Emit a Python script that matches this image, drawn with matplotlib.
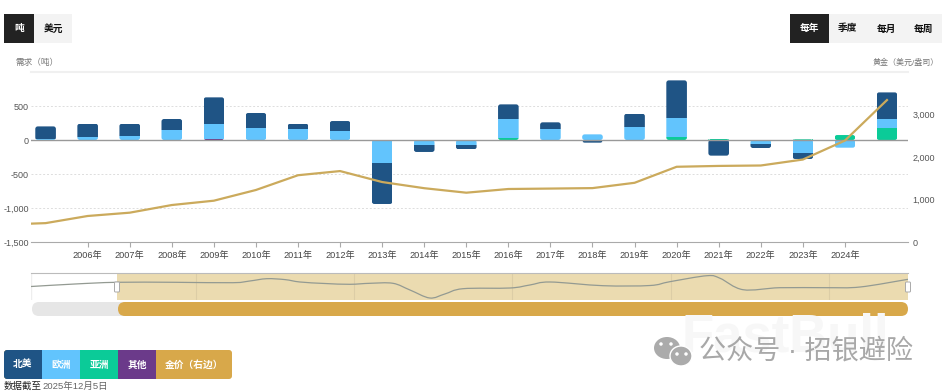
import matplotlib
matplotlib.use("Agg")
import matplotlib.pyplot as plt
from matplotlib.patches import Rectangle, FancyBboxPatch, Ellipse, PathPatch
from matplotlib.path import Path
from matplotlib.transforms import IdentityTransform

plt.rcParams['font.family'] = ['Liberation Sans', 'Noto Sans CJK SC', 'DejaVu Sans']

W, H = 942, 391

years = list(range(2005, 2026))
north_america = [185, 200, 180, 162, 392, 221, 83, 152, -608, -103, -67, 220, 98, -39, 201, 554, -230, -63, -88, 0, 396]
europe = [15, 40, 55, 147, 220, 176, 157, 127, -313, -53, -60, 270, 162, 83, 186, 279, 10, -45, -191, -113, 128]
asia = [0, 0, 0, 0, 0, 0, -20, 0, 0, 0, -10, 34, 0, 0, 0, 44, 10, -10, 10, 73, 176]
other = [0, 0, 5, 0, 15, 0, 0, 0, -20, -20, 0, 0, 0, 0, 0, 0, 0, 0, 0, 0, 0]

price_years = list(range(2004, 2026))
gold_price = [409, 444, 612, 690, 870, 972, 1224, 1571, 1669, 1411, 1266, 1160, 1247, 1257, 1268, 1393,
              1770, 1790, 1800, 1940, 2386, 3340]

nav_years = [2002.83, 2003.94, 2005, 2006.47, 2007.93, 2008.36, 2008.79, 2009.25, 2009.63, 2010.26, 2010.89,
             2011.4, 2011.98, 2012.41, 2012.91, 2013.29, 2013.75, 2014.94, 2015.44, 2015.95, 2017.29, 2018.48,
             2018.98, 2019.92, 2020.25, 2020.83, 2021.76, 2022.95, 2023.79, 2025]
nav_values = [13.5, 16, 17.7, 17.7, 17.3, 19, 21.3, 20.4, 18, 16.5, 15.7, 16.7, 16.7, 10, 2, 6, 11.3, 12, 15, 18,
              14.3, 14.5, 18.3, 24.3, 21.7, 10.3, 12.3, 12.3, 13, 20.7]
nav_grid = [2007, 2011, 2015, 2019, 2023]

series_names = ['北美', '欧洲', '亚洲', '其他', '金价（右边）']
unit_buttons = ['吨', '美元']
period_buttons = ['每年', '季度', '每月', '每周']

NA_C, EU_C, AS_C, OT_C = '#1F5485', '#62C4FD', '#0BCB98', '#6B3A8A'
GOLD = '#D8A84A'
LINE_C = '#CBAA5C'
TXT = '#555555'


def px_axes(fig, x0, y0, x1, y1):
    return fig.add_axes([x0 / W, 1 - y1 / H, (x1 - x0) / W, (y1 - y0) / H])


def smooth_path(xs, ys):
    # the navigator is a spline in the original, so bend the line through the read points
    verts = [(xs[0], ys[0])]
    codes = [Path.MOVETO]
    n = len(xs)
    for i in range(n - 1):
        a, b = max(i - 1, 0), min(i + 2, n - 1)
        verts.append((xs[i] + (xs[i + 1] - xs[a]) / 6, ys[i] + (ys[i + 1] - ys[a]) / 6))
        verts.append((xs[i + 1] - (xs[b] - xs[i]) / 6, ys[i + 1] - (ys[b] - ys[i]) / 6))
        verts.append((xs[i + 1], ys[i + 1]))
        codes += [Path.CURVE4] * 3
    return Path(verts, codes)


fig = plt.figure(figsize=(W / 100, H / 100), dpi=100)

# main chart
ax = px_axes(fig, 31, 72, 908, 242)
ax.set_xlim(-0.347, 20.5)
ax.set_ylim(-1500, 1000)
ax.set_yticks([-1500, -1000, -500, 0, 500])
ax.set_yticklabels(['-1,500', '-1,000', '-500', '0', '500'], fontsize=6.5, color=TXT)
xt = [y - 2005 for y in years[1:-1]]
ax.set_xticks(xt)
ax.set_xticklabels([f'{y}年' for y in years[1:-1]], fontsize=6.6, color='#444444')
ax.tick_params(axis='x', length=3.6, color='#aaaaaa', width=0.8, pad=3)
ax.tick_params(axis='y', length=0, pad=1.5)
for s in ['top', 'left', 'right']:
    ax.spines[s].set_visible(False)
ax.spines['bottom'].set_color('#aaaaaa')
for v in [500, -500, -1000]:
    ax.axhline(v, color='#dddddd', lw=0.7, ls=(0, (2, 2)), zorder=0)
ax.axhline(1000, color='#f0f0f0', lw=1.5, zorder=0, clip_on=False)

pos = [0] * len(years)
neg = [0] * len(years)
bars = []
for vals, col in [(other, OT_C), (asia, AS_C), (europe, EU_C), (north_america, NA_C)]:
    for i, v in enumerate(vals):
        if v == 0:
            continue
        base = pos[i] if v > 0 else neg[i]
        b = ax.bar(i, v, 0.49, bottom=base, color=col, zorder=2)[0]
        bars.append((i, v, b))
        if v > 0:
            pos[i] += v
        else:
            neg[i] += v

# round off the ends of each stack
fig.canvas.draw()
for i, v, b in bars:
    end = pos[i] if v > 0 else neg[i]
    (x0, y0), (x1, y1) = ax.transData.transform([(i - 0.245, 0), (i + 0.245, end)])
    ylo, yhi = min(y0, y1), max(y0, y1)
    clip = FancyBboxPatch((x0, ylo), x1 - x0, yhi - ylo, boxstyle='round,pad=0,rounding_size=2.5',
                          transform=IdentityTransform())
    b.set_clip_path(clip)

ax.axhline(0, color='#999999', lw=1, zorder=3)

ax2 = ax.twinx()
ax2.set_ylim(0, 4000)
ax2.set_yticks([0, 1000, 2000, 3000])
ax2.set_yticklabels(['0', '1,000', '2,000', '3,000'], fontsize=6.5, color=TXT)
ax2.tick_params(axis='y', length=0, pad=3)
for s in ax2.spines.values():
    s.set_visible(False)
ax2.plot([y - 2005 for y in price_years], gold_price, color=LINE_C, lw=1.6, zorder=5)

# navigator
nav = px_axes(fig, 31, 273, 908, 300)
nav.set_xlim(2002.83, 2025)
nav.set_ylim(0, 27)
nav.set_xticks([])
nav.set_yticks([])
for s in ['left', 'right', 'bottom']:
    nav.spines[s].set_visible(False)
nav.spines['top'].set_color('#bbbbbb')
nav.axvspan(2005, 2025, color='#EBDBB0', lw=0, zorder=0)
for g in nav_grid:
    nav.axvline(g, color='#DCCDA6', lw=0.8, zorder=1)
nav.axvline(2002.83, color='#eeeeee', lw=1, zorder=1)
nav.add_patch(PathPatch(smooth_path(nav_years, nav_values), fc='none', ec='#939A92', lw=0.9, zorder=2))

# overlay in pixel coordinates for buttons, scrollbar, legend, watermark
ov = fig.add_axes([0, 0, 1, 1], facecolor='none')
ov.set_xlim(0, W)
ov.set_ylim(H, 0)
ov.axis('off')


def button(x0, x1, y0, y1, color, label, tcolor, size=7):
    ov.add_patch(Rectangle((x0, y0), x1 - x0, y1 - y0, color=color, lw=0))
    ov.text((x0 + x1) / 2, (y0 + y1) / 2, label, color=tcolor, fontsize=size, fontweight='bold',
            ha='center', va='center')


button(4, 34, 14, 43, '#222222', unit_buttons[0], 'white')
button(34, 72, 14, 43, '#F3F3F3', unit_buttons[1], '#111111')
edges = [790, 829, 867, 905, 942]
for k, lab in enumerate(period_buttons):
    if k == 0:
        button(edges[k], edges[k + 1], 14, 43, '#222222', lab, 'white')
    else:
        button(edges[k], edges[k + 1], 14, 43, '#F3F3F3', lab, '#111111')

ov.text(15, 62.5, '需求（吨）', fontsize=6.2, color='#777777', va='center', ha='left')
ov.text(939, 62.5, '黄金（美元/盎司）', fontsize=5.8, color='#777777', va='center', ha='right')

# scrollbar
ov.add_patch(FancyBboxPatch((32, 302), 100, 14, boxstyle='round,pad=0,rounding_size=7', color='#E6E6E6', lw=0))
ov.add_patch(FancyBboxPatch((118, 302), 790, 14, boxstyle='round,pad=0,rounding_size=7', color=GOLD, lw=0))
for hx in [117, 908]:
    ov.add_patch(FancyBboxPatch((hx - 2.5, 282), 5, 10, boxstyle='round,pad=0,rounding_size=1',
                                fc='white', ec='#aaaaaa', lw=0.7))

# legend
leg_edges = [4, 42, 80, 118, 156, 232]
leg_cols = [NA_C, EU_C, AS_C, OT_C, GOLD]
ov.add_patch(FancyBboxPatch((4, 350), 228, 29, boxstyle='round,pad=0,rounding_size=3', color=GOLD, lw=0))
ov.add_patch(FancyBboxPatch((4, 350), 60, 29, boxstyle='round,pad=0,rounding_size=3', color=NA_C, lw=0))
for k, name in enumerate(series_names):
    if 0 < k < 4:
        ov.add_patch(Rectangle((leg_edges[k], 350), leg_edges[k + 1] - leg_edges[k], 29, color=leg_cols[k], lw=0))
    ov.text((leg_edges[k] + leg_edges[k + 1]) / 2, 364.5, name, color='white', fontsize=7, fontweight='bold',
            ha='center', va='center')

ov.text(4, 386, '数据截至', fontsize=6.8, color='#222222', va='center', ha='left')
ov.text(42, 386, '2025年12月5日', fontsize=6.8, color='#666666', va='center', ha='left')

# watermark
ov.text(785, 338, 'FastBull', fontsize=38, fontweight='bold', color='#F7F7F7', ha='center', va='center', zorder=1)
ov.add_patch(Ellipse((667, 348), 26, 22, color='#ABABAB', lw=0, zorder=2))
ov.add_patch(Ellipse((681, 356), 22, 20, fc='#ABABAB', ec='white', lw=1, zorder=3))
for ex, ey in [(661, 344), (671, 344), (677, 354), (686, 354)]:
    ov.add_patch(Ellipse((ex, ey), 3.5, 3.5, color='white', lw=0, zorder=4))
ov.text(699, 352, '公众号 · 招银避险', fontsize=19.5, color='#A8A8A8', fontweight='light', ha='left', va='center', zorder=4)

fig.savefig('out.png', dpi=100)
